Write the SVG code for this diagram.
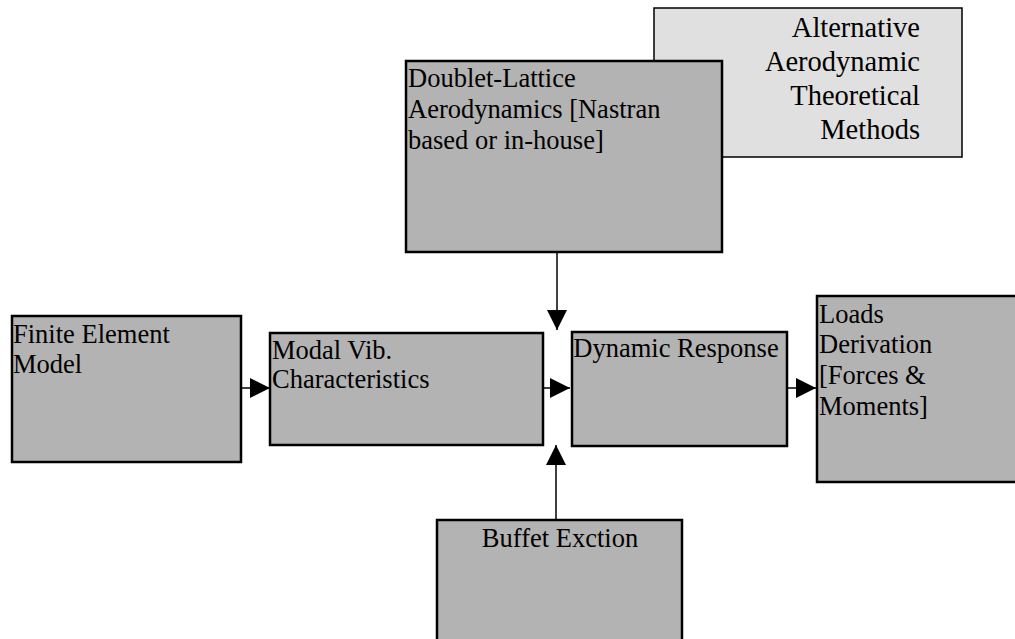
<svg xmlns="http://www.w3.org/2000/svg" width="1015" height="639" viewBox="0 0 1015 639">
<style>
.box{fill:#b3b3b3;stroke:#000;stroke-width:2.5}
.alt{fill:#e0e0e0;stroke:#000;stroke-width:1.5}
.t{font-family:"Liberation Serif","Times New Roman",serif;font-size:26.5px;fill:#000}
.ta{font-family:"Liberation Serif","Times New Roman",serif;font-size:28.5px;fill:#000}
.c{stroke:#000;stroke-width:1.5;fill:none}
</style>
<defs>
<marker id="ah" viewBox="0 0 20 20" refX="20" refY="10" markerWidth="20" markerHeight="20" markerUnits="userSpaceOnUse" orient="auto">
<path d="M0,0 L20,10 L0,20 Z" fill="#000"/>
</marker>
</defs>
<g id="alternative">
<rect class="alt" x="654" y="8" width="308" height="149"/>
<text class="ta" text-anchor="end"><tspan x="920" y="37">Alternative</tspan><tspan x="920" y="71">Aerodynamic</tspan><tspan x="920" y="105">Theoretical</tspan><tspan x="920" y="139">Methods</tspan></text>
</g>
<g id="doublet">
<rect class="box" x="406" y="61" width="316" height="191"/>
<text class="t"><tspan x="408" y="87">Doublet-Lattice</tspan><tspan x="408" y="118">Aerodynamics [Nastran</tspan><tspan x="408" y="149">based or in-house]</tspan></text>
</g>
<g id="fem">
<rect class="box" x="12" y="316" width="229" height="146"/>
<text class="t"><tspan x="13" y="343">Finite Element</tspan><tspan x="13" y="373">Model</tspan></text>
</g>
<g id="modal">
<rect class="box" x="270" y="333" width="273" height="112"/>
<text class="t"><tspan x="272" y="359">Modal Vib.</tspan><tspan x="272" y="388">Characteristics</tspan></text>
</g>
<g id="dynamic">
<rect class="box" x="572" y="332" width="215" height="114"/>
<text class="t" x="676" y="357" text-anchor="middle">Dynamic Response</text>
</g>
<g id="loads">
<rect class="box" x="817" y="296" width="210" height="186"/>
<text class="t"><tspan x="819" y="323">Loads</tspan><tspan x="819" y="353">Derivation</tspan><tspan x="819" y="384">[Forces &amp;</tspan><tspan x="819" y="415">Moments]</tspan></text>
</g>
<g id="buffet">
<rect class="box" x="437" y="520" width="245" height="130"/>
<text class="t" x="560" y="547" text-anchor="middle">Buffet Exction</text>
</g>
<g id="connectors">
<line class="c" x1="241" y1="388" x2="270" y2="388" marker-end="url(#ah)"/>
<line class="c" x1="543" y1="388" x2="570" y2="388" marker-end="url(#ah)"/>
<line class="c" x1="787" y1="388" x2="816" y2="388" marker-end="url(#ah)"/>
<line class="c" x1="557" y1="252" x2="557" y2="330" marker-end="url(#ah)"/>
<line class="c" x1="556" y1="520" x2="556" y2="445" marker-end="url(#ah)"/>
</g>
</svg>
